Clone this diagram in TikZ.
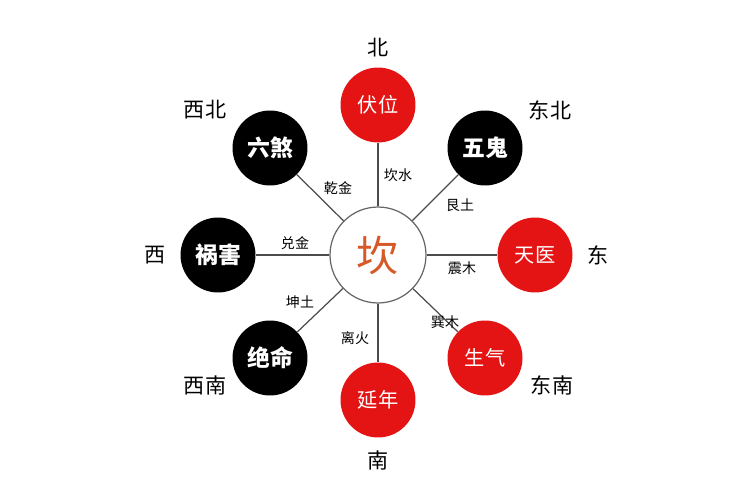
\documentclass[tikz,border=0pt]{standalone}
\usepackage{fontspec}
\newfontfamily\cjk{Noto Sans CJK SC}
\usetikzlibrary{positioning}
\definecolor{starred}{RGB}{228,20,20}
\definecolor{kanorange}{RGB}{214,90,40}
\tikzset{
  starbad/.style={circle, fill=black, inner sep=0pt, text=white, font=\cjk\bfseries\fontsize{13}{13}\selectfont, minimum size=1.5cm},
  stargood/.style={circle, fill=starred, inner sep=0pt, text=white, font=\cjk\fontsize{11.5}{11.5}\selectfont, minimum size=1.5cm},
  dirlabel/.style={font=\cjk\fontsize{12}{12}\selectfont},
  spokelabel/.style={font=\cjk\fontsize{8}{8}\selectfont},
  spoke/.style={line width=0.7pt, black!70}
}
\begin{document}
\begin{tikzpicture}[x=0.02cm, y=-0.02cm]
    \useasboundingbox (0,0) rectangle (750,500);
    %% centre
    \node[circle, draw=black!60, line width=0.7pt, minimum size=1.92cm, inner sep=0pt,
      text=kanorange, font=\cjk\fontsize{24}{24}\selectfont] (kan) at (378,255) {坎};
    %% eight stars
    \node[stargood] (fuwei)   at (378,105) {伏位};
    \node[starbad]  (wugui)   at (485,148) {五鬼};
    \node[stargood] (tianyi)  at (535,255) {天医};
    \node[stargood] (shengqi) at (485,358) {生气};
    \node[stargood] (yannian) at (378,400) {延年};
    \node[starbad]  (jueming) at (270,358) {绝命};
    \node[starbad]  (huohai)  at (218,255) {祸害};
    \node[starbad]  (liusha)  at (270,148) {六煞};
    %% spokes
    \foreach \s in {fuwei,wugui,tianyi,shengqi,yannian,jueming,huohai,liusha}
      \draw[spoke] (kan) -- (\s);
    %% spoke labels
    \node[spokelabel] (l1) at (398,175) {坎水};
    \node[spokelabel] (l2) at (460,205) {艮土};
    \node[spokelabel] (l3) at (462,268) {震木};
    \node[spokelabel] (l4) at (445,322) {巽木};
    \node[spokelabel] (l5) at (355,338) {离火};
    \node[spokelabel] (l6) at (300,302) {坤土};
    \node[spokelabel] (l7) at (295,243) {兑金};
    \node[spokelabel] (l8) at (338,188) {乾金};
    %% directions
    \node[dirlabel] (dn)  at (378,48)  {北};
    \node[dirlabel] (dne) at (550,110) {东北};
    \node[dirlabel] (de)  at (598,255) {东};
    \node[dirlabel] (dse) at (552,385) {东南};
    \node[dirlabel] (ds)  at (378,460) {南};
    \node[dirlabel] (dsw) at (205,385) {西南};
    \node[dirlabel] (dw)  at (155,255) {西};
    \node[dirlabel] (dnw) at (205,110) {西北};
\end{tikzpicture}
\end{document}
